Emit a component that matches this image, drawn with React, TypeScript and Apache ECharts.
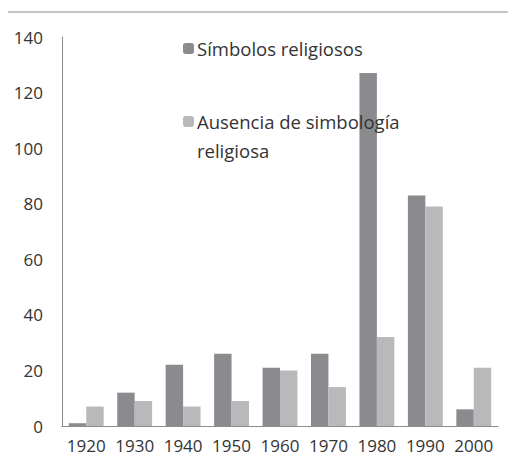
import React, { useEffect, useRef } from "react";
import * as echarts from "echarts";

const categories = ["1920", "1930", "1940", "1950", "1960", "1970", "1980", "1990", "2000"];
const simbolos = [1, 12, 22, 26, 21, 26, 127, 83, 6];
const ausencia = [7, 9, 7, 9, 20, 14, 32, 79, 21];
const seriesNames = ["Símbolos religiosos", "Ausencia de simbología religiosa"];

export default function App() {
  const ref = useRef<HTMLDivElement>(null);
  useEffect(() => {
    if (!ref.current) return;
    const chart = echarts.init(ref.current, undefined, { renderer: "svg" });
    const font = "'Open Sans', 'Noto Sans', sans-serif";
    const txt = "#333333";
    chart.setOption({
      animation: false,
      textStyle: { fontFamily: font },
      graphic: [
        {
          type: "line",
          shape: { x1: 7, y1: 12, x2: 516, y2: 12 },
          style: { stroke: "#8c8c8c", lineWidth: 1 },
        },
      ],
      legend: [
        {
          data: [seriesNames[0]],
          left: 178,
          top: 34,
          itemWidth: 11,
          itemHeight: 11,
          textStyle: { fontFamily: font, fontSize: 18.5, color: txt, padding: [0, 0, 0, -2] },
        },
        {
          data: [seriesNames[1]],
          left: 178,
          top: 73,
          itemWidth: 11,
          itemHeight: 11,
          formatter: () => " \nAusencia de simbología\nreligiosa",
          textStyle: {
            fontFamily: font,
            fontSize: 18.5,
            color: txt,
            lineHeight: 29,
            padding: [0, 0, 0, -2],
          },
        },
      ],
      grid: { left: 62, right: 18, top: 37, bottom: 37, containLabel: false },
      xAxis: {
        type: "category",
        data: categories,
        axisLine: { lineStyle: { color: "#8c8c8c" } },
        axisTick: { show: false },
        axisLabel: { color: txt, fontSize: 17, fontFamily: font, margin: 11, interval: 0 },
      },
      yAxis: {
        type: "value",
        min: 0,
        max: 140,
        interval: 20,
        axisLine: { show: true, lineStyle: { color: "#8c8c8c" } },
        axisTick: { show: false },
        splitLine: { show: false },
        axisLabel: { color: txt, fontSize: 17, fontFamily: font, margin: 19 },
      },
      series: [
        {
          name: seriesNames[0],
          type: "bar",
          data: simbolos,
          barGap: "0%",
          barCategoryGap: "28%",
          itemStyle: { color: "#8b8b8f" },
        },
        {
          name: seriesNames[1],
          type: "bar",
          data: ausencia,
          itemStyle: { color: "#b9b9bc" },
        },
      ],
    });
    return () => chart.dispose();
  }, []);
  return <div ref={ref} style={{ width: 516, height: 463, margin: -8 }} />;
}
